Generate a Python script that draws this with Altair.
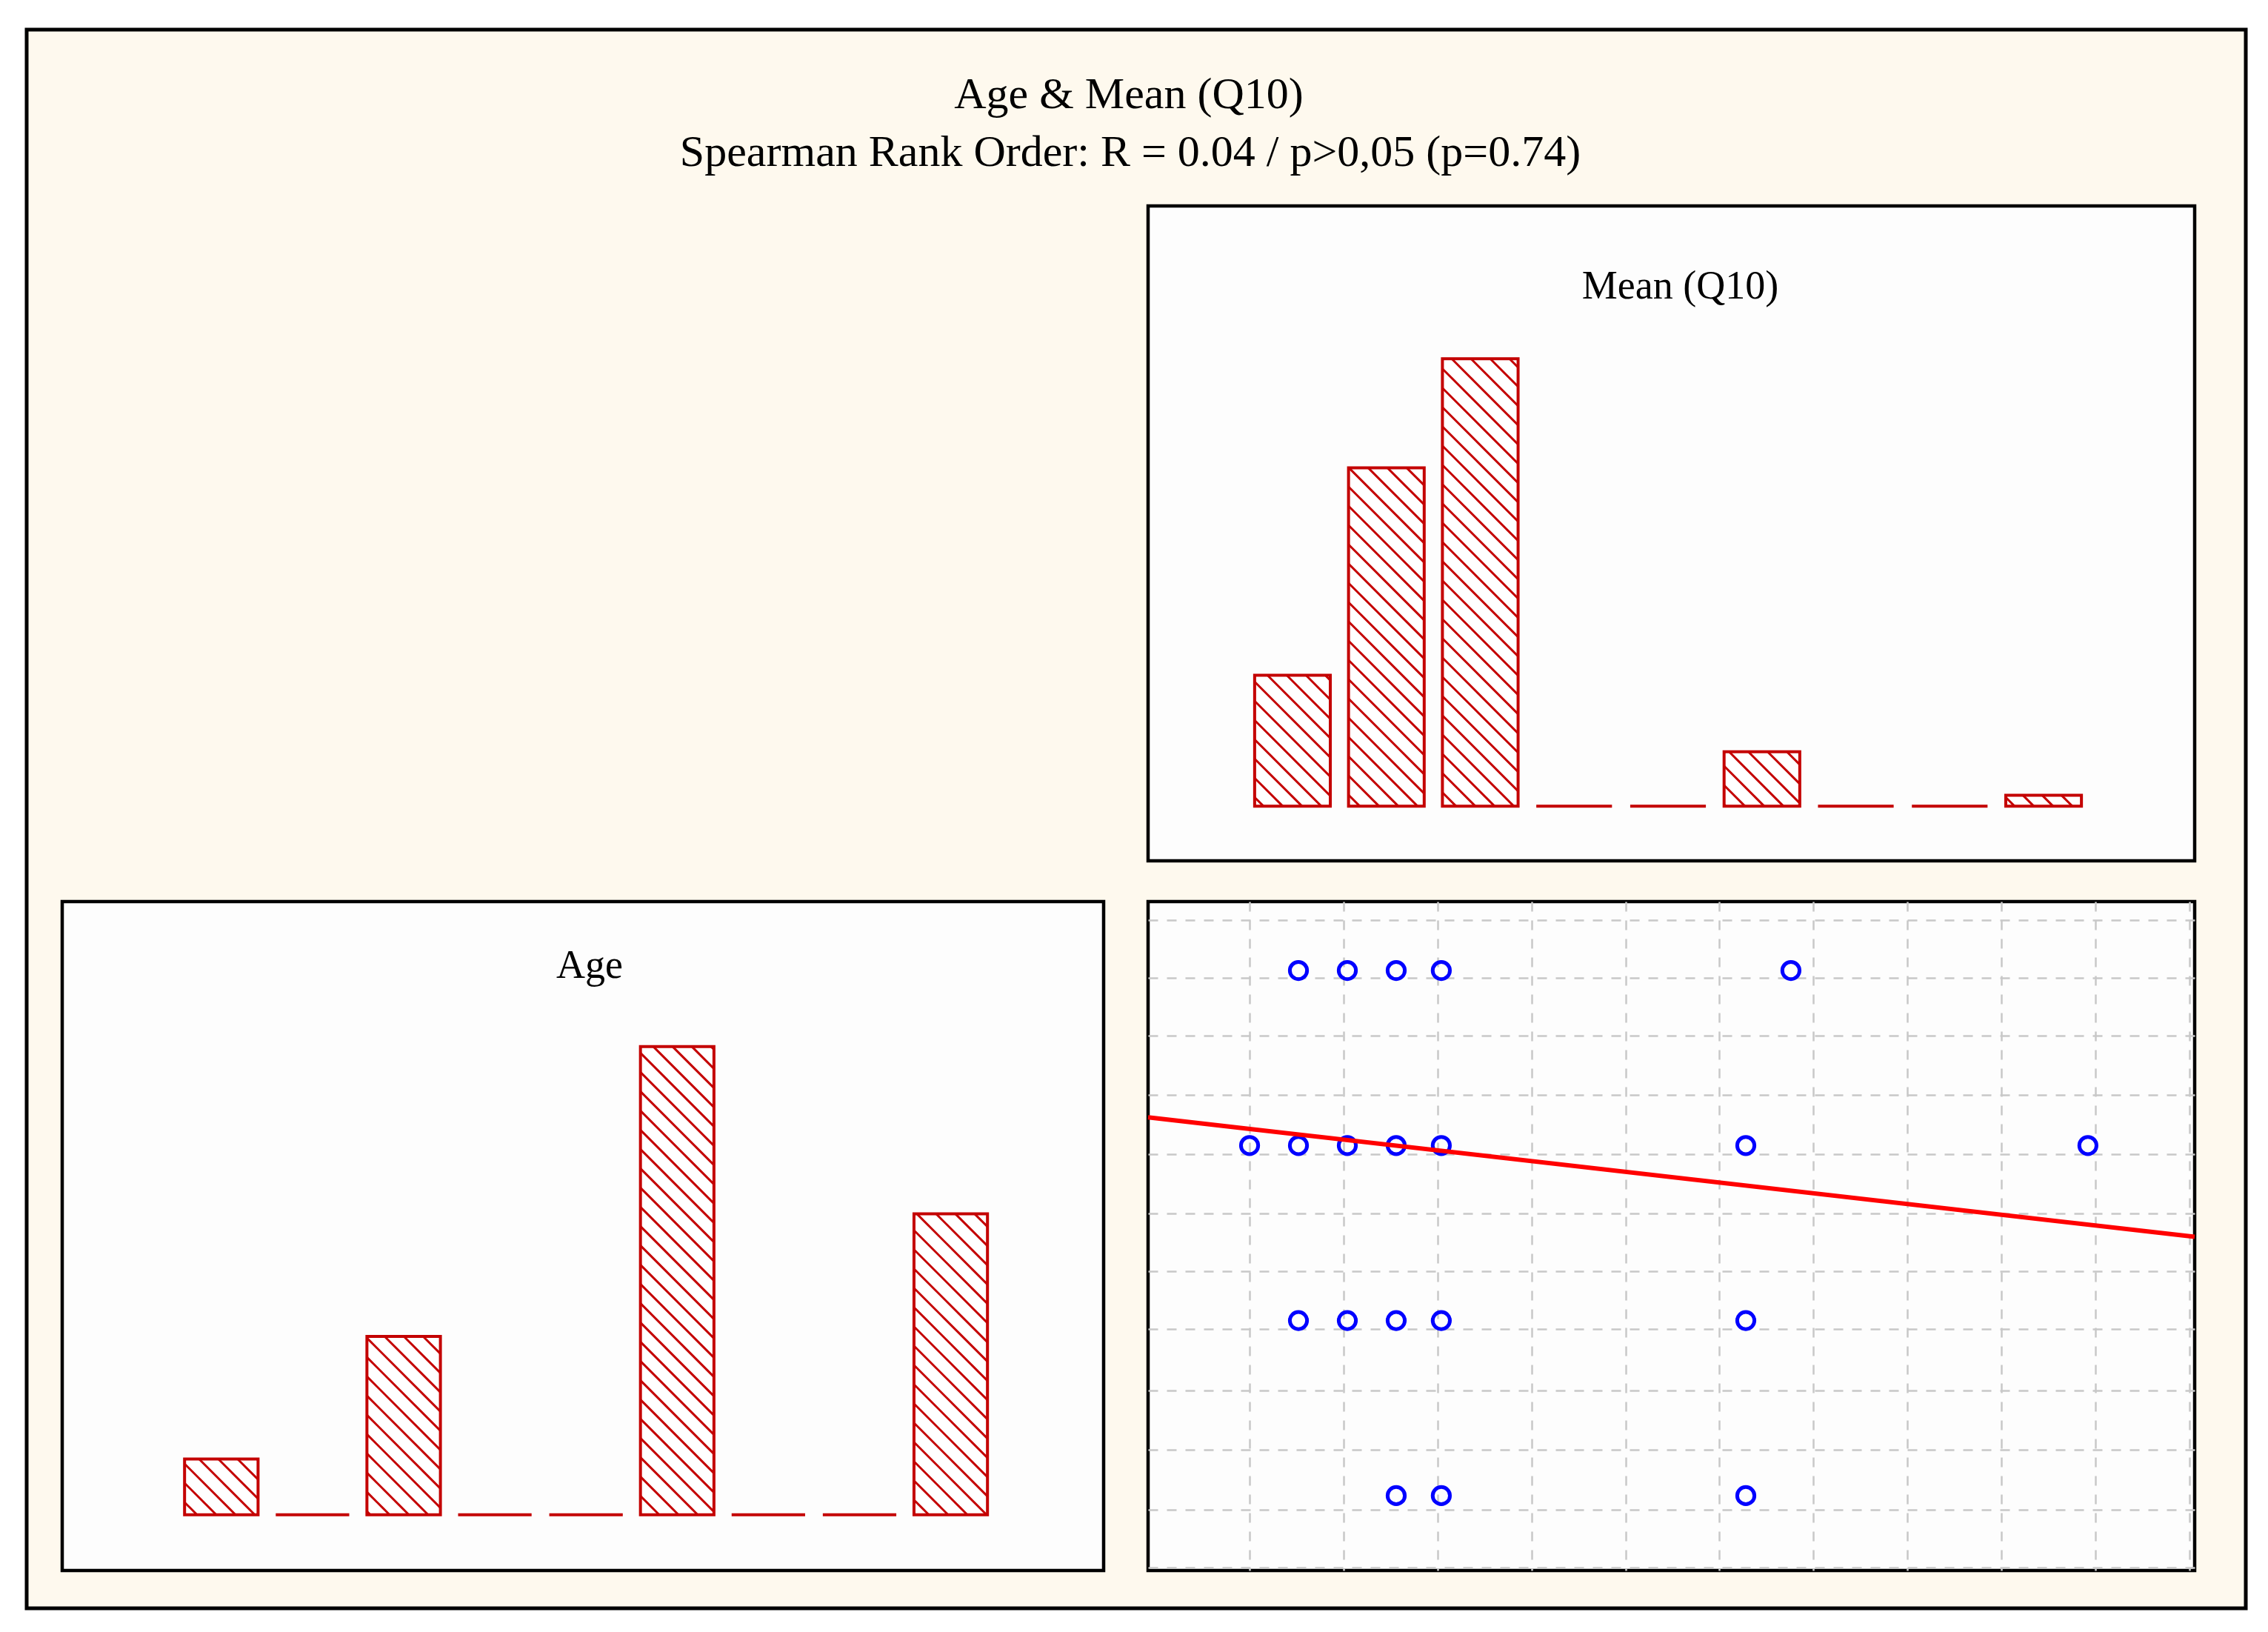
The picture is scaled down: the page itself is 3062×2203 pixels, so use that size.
import altair as alt
import numpy as np
import pandas as pd

# Histogram counts, 9 equal-width bins each
mean_counts = [12, 31, 41, 0, 0, 5, 0, 0, 1]
age_counts = [5, 0, 16, 0, 0, 42, 0, 0, 27]

# Scatter: Mean (Q10) against age group
scatter_mean = [1.13, 1.26, 1.39, 1.51, 2.44,
                1.00, 1.13, 1.26, 1.39, 1.51, 2.32, 3.23,
                1.13, 1.26, 1.39, 1.51, 2.32,
                1.39, 1.51, 2.32]
scatter_age = [4, 4, 4, 4, 4,
               3, 3, 3, 3, 3, 3, 3,
               2, 2, 2, 2, 2,
               1, 1, 1]

# Fitted line (read at the panel edges)
fit_mean = [0.730, 3.514]
fit_age = [3.161, 2.479]

# grid positions of the scatter panel
grid_x = [1.0, 1.25, 1.5, 1.75, 2.0, 2.25, 2.5, 2.75, 3.0, 3.25, 3.5]
grid_y = [0.59, 0.92, 1.26, 1.60, 1.95, 2.28, 2.61, 2.95, 3.29, 3.63, 3.96, 4.29]

title_lines = ["Age & Mean (Q10)", "Spearman Rank Order: R = 0.04 / p>0,05 (p=0.74)"]

FONT = "Liberation Serif"
CREAM = "#fef9ee"
PANEL = "#fdfdfd"
RED = "#c40000"
PAD = 0.097
YDOM = [-5, 55]
W_L, W_R = 1406, 1413
H_TOP, H_BOT = 884, 903

one = pd.DataFrame({"a": [0]})


def hatch_segments(counts, xdom, width, height, step=26):
    # diagonal hatch lines for each bar, 45 degrees in pixel space
    sx = width / (xdom[1] - xdom[0])
    sy = height / (YDOM[1] - YDOM[0])
    rows = []
    for k, c in enumerate(counts):
        if c <= 0:
            continue
        a = (k + PAD - xdom[0]) * sx
        b = (k + 1 - PAD - xdom[0]) * sx
        h = c * sy
        K = np.ceil(a / step) * step
        while K < b + h:
            xs, xe = max(a, K - h), min(b, K)
            if xe - xs > 1:
                rows.append({"xa": xs / sx + xdom[0], "ya": (K - xs) / sy,
                             "xb": xe / sx + xdom[0], "yb": (K - xe) / sy})
            K += step
    return pd.DataFrame(rows)


def hist_panel(counts, xdom, width, height, title, title_dx, title_y):
    df = pd.DataFrame({"bin": list(range(len(counts))), "count": counts})
    df["x0"] = df["bin"] + PAD
    df["x1"] = df["bin"] + 1 - PAD
    df["base"] = 0
    xs = alt.Scale(domain=xdom, nice=False, zero=False)
    ys = alt.Scale(domain=YDOM, nice=False, zero=False)

    bars = alt.Chart(df).mark_rect(fill="white", stroke=RED, strokeWidth=4).encode(
        x=alt.X("x0:Q", scale=xs, axis=None),
        x2="x1",
        y=alt.Y("count:Q", scale=ys, axis=None),
        y2="base",
    )
    hatch = alt.Chart(hatch_segments(counts, xdom, width, height)).mark_rule(
        color=RED, strokeWidth=3
    ).encode(
        x=alt.X("xa:Q", scale=xs, axis=None),
        x2="xb",
        y=alt.Y("ya:Q", scale=ys, axis=None),
        y2="yb",
    )
    label = alt.Chart(one).mark_text(
        text=title, font=FONT, fontSize=54, align="center", baseline="alphabetic", color="black"
    ).encode(x=alt.value(width / 2 + title_dx), y=alt.value(title_y))

    return alt.layer(bars, hatch, label).properties(
        width=width, height=height,
        view=alt.ViewBackground(fill=PANEL, stroke="black", strokeWidth=4.5),
    )


mean_panel = hist_panel(mean_counts, [-1.038, 10.109], W_R, H_TOP, "Mean (Q10)", 12, 125)
age_panel = hist_panel(age_counts, [-1.245, 10.177], W_L, H_BOT, "Age", 9, 103)

# Scatter panel
sc = pd.DataFrame({"mean": scatter_mean, "age": scatter_age})
fit = pd.DataFrame({"mean": fit_mean, "age": fit_age})
sx = alt.Scale(domain=[0.730, 3.514], nice=False, zero=False)
sy = alt.Scale(domain=[0.572, 4.394], nice=False, zero=False)
grid_style = dict(grid=True, gridDash=[13, 12], gridColor="#c8c8c8", gridWidth=2.5,
                  labels=False, ticks=False, domain=False, title="")
x_axis = alt.Axis(values=grid_x, **grid_style)
y_axis = alt.Axis(values=grid_y, **grid_style)

points = alt.Chart(sc).mark_point(
    shape="circle", filled=False, color="#0000ff", size=540, strokeWidth=5, opacity=1
).encode(
    x=alt.X("mean:Q", scale=sx, axis=x_axis),
    y=alt.Y("age:Q", scale=sy, axis=y_axis),
)
line = alt.Chart(fit).mark_line(color="#ff0000", strokeWidth=6).encode(
    x=alt.X("mean:Q", scale=sx, axis=x_axis),
    y=alt.Y("age:Q", scale=sy, axis=y_axis),
)
scatter_panel = alt.layer(points, line).properties(
    width=W_R, height=H_BOT,
    view=alt.ViewBackground(fill=PANEL, stroke="black", strokeWidth=4.5),
)

# Empty top-left cell carries the outer frame and the main title
frame = alt.Chart(one).mark_rect(fill=CREAM, stroke="black", strokeWidth=5).encode(
    x=alt.value(-48), x2=alt.value(2948), y=alt.value(-238), y2=alt.value(1893)
)
t1 = alt.Chart(one).mark_text(
    text=title_lines[0], font=FONT, fontSize=60, align="center", baseline="alphabetic", color="black"
).encode(x=alt.value(1440), y=alt.value(-132))
t2 = alt.Chart(one).mark_text(
    text=title_lines[1], font=FONT, fontSize=60, align="center", baseline="alphabetic", color="black"
).encode(x=alt.value(1442), y=alt.value(-54))
blank = alt.layer(frame, t1, t2).properties(
    width=W_L, height=H_TOP,
    view=alt.ViewBackground(stroke="transparent", strokeWidth=0),
)

chart = alt.concat(
    blank, mean_panel, age_panel, scatter_panel,
    columns=2, spacing={"row": 55, "column": 60}, bounds="flush", align="each",
).properties(
    background="white",
    padding={"left": 25, "top": 29, "right": 10, "bottom": 10},
)

chart.save("out.html", embed_options={"renderer": "svg", "actions": False})
